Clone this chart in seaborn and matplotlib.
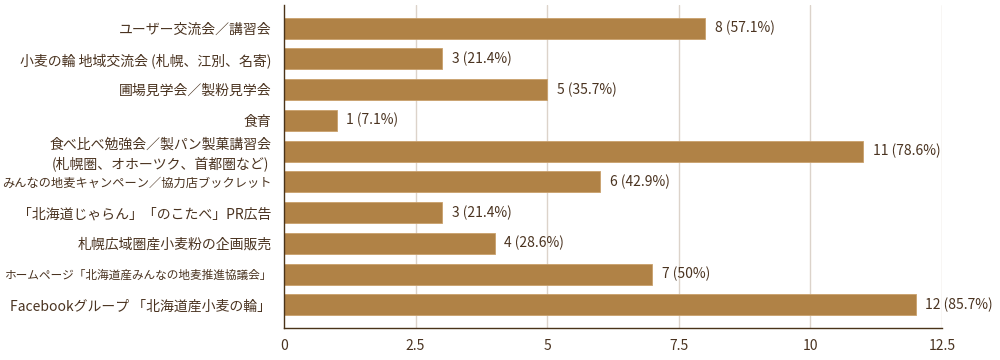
import numpy as np
import pandas as pd
import seaborn as sns
import matplotlib.pyplot as plt

activities = [
    'ユーザー交流会／講習会',
    '小麦の輪 地域交流会 (札幌、江別、名寄)',
    '圃場見学会／製粉見学会',
    '食育',
    '食べ比べ勉強会／製パン製菓講習会\n(札幌圏、オホーツク、首都圏など)',
    'みんなの地麦キャンペーン／協力店ブックレット',
    '「北海道じゃらん」「のこたべ」PR広告',
    '札幌広域圏産小麦粉の企画販売',
    'ホームページ「北海道産みんなの地麦推進協議会」',
    'Facebookグループ 「北海道産小麦の輪」',
]
counts = [8, 3, 5, 1, 11, 6, 3, 4, 7, 12]
percents = ['57.1%', '21.4%', '35.7%', '7.1%', '78.6%', '42.9%', '21.4%', '28.6%', '50%', '85.7%']
xticks = [0, 2.5, 5, 7.5, 10, 12.5]
xtick_labels = ['0', '2.5', '5', '7.5', '10', '12.5']

bar_color = '#b08246'
text_color = '#4a3320'

sns.set_style('white')
plt.rcParams['font.family'] = ['Noto Sans CJK JP', 'DejaVu Sans']

df = pd.DataFrame({'activity': activities, 'count': counts})

fig = plt.figure(figsize=(10, 3.6), dpi=100)
ax = fig.add_axes([0.284, 0.089, 0.658, 0.897])

for x in xticks[1:]:
    ax.axvline(x, color='#dcd3ca', lw=1, zorder=0)

sns.barplot(data=df, x='count', y='activity', orient='h', color=bar_color,
            width=0.68, saturation=1, edgecolor='#c9a06c', linewidth=0.6, ax=ax, zorder=2)

for i, (c, p) in enumerate(zip(counts, percents)):
    ax.annotate(f'{c} ({p})', (c, i), xytext=(7, 0), textcoords='offset points',
                va='center', ha='left', fontsize=10, color=text_color)

ax.set_xlim(0, 12.5)
ax.set_ylim(len(activities) - 0.25, -0.75)
ax.set_xticks(xticks)
ax.set_xticklabels(xtick_labels)
ax.set_xlabel('')
ax.set_ylabel('')
ax.tick_params(axis='both', length=0, labelsize=10, labelcolor=text_color)
ax.tick_params(axis='x', pad=8)
ax.tick_params(axis='y', pad=9)
for lbl in ax.get_yticklabels():
    lbl.set_multialignment('center')
    lbl.set_linespacing(1.3)

sns.despine(ax=ax, top=True, right=True)
for s in ['left', 'bottom']:
    ax.spines[s].set_color('#4a3319')
    ax.spines[s].set_linewidth(1.0)

# shrink the long labels so they stay inside the figure
fig.canvas.draw()
for lbl in ax.get_yticklabels():
    bb = lbl.get_window_extent()
    if bb.x0 < 3:
        lbl.set_fontsize(10 * (bb.x1 - 3) / bb.width)

fig.savefig('out.png', dpi=100)
